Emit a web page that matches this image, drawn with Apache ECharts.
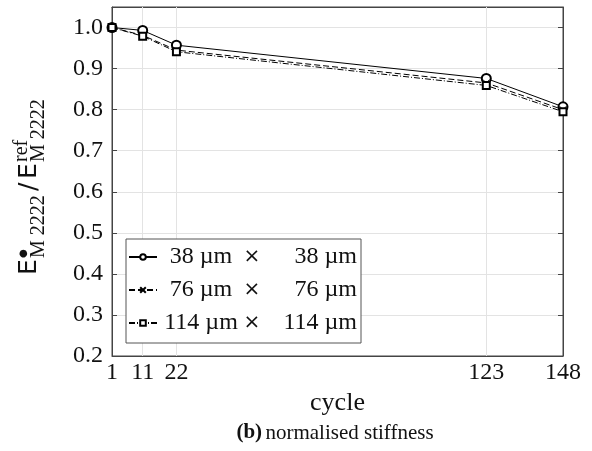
<!DOCTYPE html>
<html><head><meta charset="utf-8">
<script src="https://cdn.jsdelivr.net/npm/echarts@6/dist/echarts.min.js"></script>
<style>html,body{margin:0;padding:0;background:#fff}#c{width:592px;height:451px}</style>
</head><body><div id="c"></div>
<script>
const cycles = [1, 11, 22, 123, 148];
const s38 = [1.0, 0.993, 0.957, 0.876, 0.807];
const s76 = [1.0, 0.981, 0.945, 0.865, 0.800];
const s114 = [1.0, 0.979, 0.941, 0.859, 0.795];
const seriesNames = ['38', '76', '114'];
const yTicks = [0.2, 0.3, 0.4, 0.5, 0.6, 0.7, 0.8, 0.9, 1.0];

const FONT = 'Liberation Serif';
const chart = echarts.init(document.getElementById('c'), null, {renderer: 'canvas'});
const pair = (ys) => cycles.map((x, i) => [x, ys[i]]);
const lineBase = (name, data, type, symbol, size) => ({
  name: name, type: 'line', data: pair(data), symbol: symbol, symbolSize: size,
  showSymbol: true,
  lineStyle: {color: '#000', width: 1, type: type},
  itemStyle: {color: '#000', borderColor: '#000', borderWidth: 1},
  emphasis: {disabled: true}, animation: false, z: 3
});
const s1 = lineBase('38', s38, 'solid', 'emptyCircle', 9);
s1.markLine = {
  silent: true, symbol: 'none', label: {show: false}, z: 1,
  lineStyle: {color: '#e3e3e3', width: 1, type: 'solid'},
  data: cycles.slice(1, -1).map(v => ({xAxis: v}))
};
const s2 = lineBase('76', s76, [6, 3], 'path://M0,0L10,10M10,0L0,10', 7);
const s3 = lineBase('114', s114, [6, 2, 1, 2], 'emptyRect', 7);

const legendRich = {
  a: {width: 78, align: 'right', fontFamily: FONT, fontSize: 24, lineHeight: 24, color: '#111'},
  x: {width: 24, align: 'center', fontFamily: 'DejaVu Sans', fontSize: 20, lineHeight: 24, color: '#111'},
  b: {width: 93, align: 'right', fontFamily: FONT, fontSize: 24, lineHeight: 24, color: '#111'}
};

// y-axis title pieces (local coords: along the reading direction / across it)
const t = (text, x, y, size, fam) => ({
  type: 'text', x: x, y: y, silent: true,
  style: {text: text, fontFamily: fam || FONT, fontSize: size, fill: '#111', align: 'left', verticalAlign: 'middle'}
});
const yTitle = {
  type: 'group', x: 29, y: 275, rotation: Math.PI / 2, silent: true,
  children: [
    t('E', 0, 0, 25, 'DejaVu Sans'),
    t('●', 17, -6, 10, 'DejaVu Sans'),
    t('M 2222', 17, 10, 20),
    t('/', 84, 0, 25, 'DejaVu Sans'),
    t('E', 96, 0, 25, 'DejaVu Sans'),
    t('ref', 113, -7, 20),
    t('M 2222', 113, 10, 20)
  ]
};

chart.setOption({
  animation: false,
  grid: {left: 112, right: 29, top: 7, bottom: 95, show: true, borderColor: '#444', borderWidth: 1, backgroundColor: 'transparent'},
  xAxis: [{
    type: 'value', min: 1, max: 148,
    axisLine: {show: true, lineStyle: {color: '#444'}},
    axisTick: {show: true, inside: true, length: 5, lineStyle: {color: '#444'}, customValues: cycles},
    axisLabel: {customValues: cycles, fontFamily: FONT, fontSize: 24, color: '#111', margin: 5},
    splitLine: {show: false},
    name: 'cycle', nameLocation: 'middle', nameGap: 26,
    nameTextStyle: {fontFamily: FONT, fontSize: 26, color: '#111'}
  }, {
    type: 'value', min: 1, max: 148, position: 'top',
    axisLine: {show: true, lineStyle: {color: '#444'}},
    axisTick: {show: true, inside: true, length: 5, lineStyle: {color: '#444'}, customValues: cycles},
    axisLabel: {show: false}, splitLine: {show: false}
  }],
  yAxis: [{
    type: 'value', min: 0.2, max: 1.05, interval: 0.1,
    axisLine: {show: true, lineStyle: {color: '#444'}},
    axisTick: {show: true, inside: true, length: 5, lineStyle: {color: '#444'}, customValues: yTicks},
    axisLabel: {customValues: yTicks, fontFamily: FONT, fontSize: 24, color: '#111', margin: 9,
      formatter: v => v.toFixed(1)},
    splitLine: {show: true, lineStyle: {color: '#e3e3e3', width: 1}}
  }, {
    type: 'value', min: 0.2, max: 1.05, interval: 0.1, position: 'right',
    axisLine: {show: true, lineStyle: {color: '#444'}},
    axisTick: {show: true, inside: true, length: 5, lineStyle: {color: '#444'}, customValues: yTicks},
    axisLabel: {show: false}, splitLine: {show: false}
  }],
  legend: {
    left: 126, top: 239, orient: 'vertical',
    backgroundColor: '#fff', borderColor: '#555', borderWidth: 1,
    padding: [6, 4, 8, 2], itemGap: 9, itemWidth: 28, itemHeight: 7,
    data: seriesNames,
    formatter: n => '{a|' + n + ' µm}{x|×}{b|' + n + ' µm}',
    textStyle: {rich: legendRich}
  },
  graphic: [yTitle, {
    type: 'text', x: 335, y: 433, silent: true,
    style: {
      text: '{b|(b)} {n|normalised stiffness}', align: 'center', verticalAlign: 'middle',
      rich: {
        b: {fontFamily: FONT, fontWeight: 'bold', fontSize: 21, fill: '#111'},
        n: {fontFamily: FONT, fontSize: 21, fill: '#111'}
      }
    }
  }],
  series: [s1, s2, s3]
});
</script></body></html>
